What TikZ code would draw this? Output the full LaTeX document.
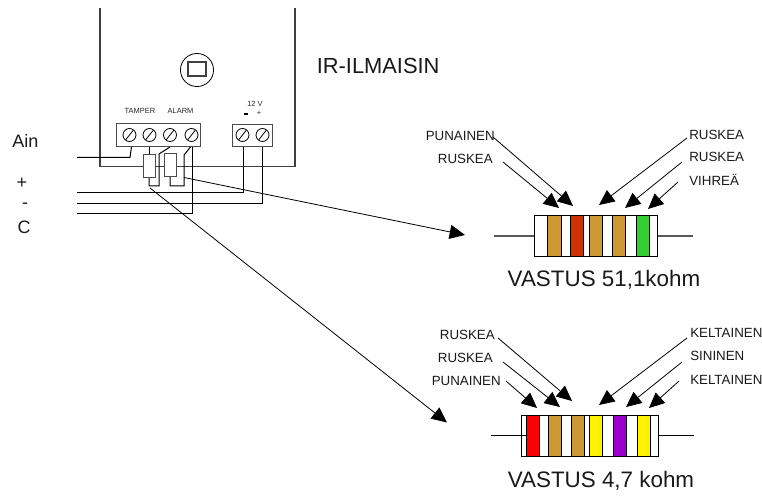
\documentclass[tikz,border=0pt]{standalone}
\usepackage{fontspec}
\setmainfont{Liberation Sans}
\usetikzlibrary{arrows.meta}
\definecolor{tanband}{HTML}{CC9933}
\definecolor{redorange}{HTML}{CC3300}
\definecolor{greenband}{HTML}{33CC33}
\definecolor{purpleband}{HTML}{9900CC}
\tikzset{
  wire/.style={draw=black,line width=0.75pt,line join=miter},
  greywire/.style={draw=black!75,line width=0.8pt},
  ptr/.style={draw=black,line width=0.6pt,-{Triangle[length=11.5pt,width=10.5pt]}},
  lbl/.style={inner sep=0pt,font=\fontsize{10pt}{12pt}\selectfont,text=black!90},
  big/.style={inner sep=0pt,font=\fontsize{16.8pt}{19pt}\selectfont,text=black!90},
  mid/.style={inner sep=0pt,font=\fontsize{13.5pt}{16pt}\selectfont,text=black!90},
  title/.style={inner sep=0pt,font=\fontsize{16.4pt}{19pt}\selectfont,text=black!90},
  tiny/.style={inner sep=0pt,font=\fontsize{5.6pt}{6.5pt}\selectfont,text=black!85},
  body/.style={draw=black,line width=0.7pt,fill=white},
  band/.style={draw=black,line width=0.6pt},
  screw/.style={draw=black,line width=0.6pt,fill=white},
  boxy/.style={draw=black!70,line width=0.75pt,fill=white},
}
\newcommand{\screwat}[3]{%
  \node[screw,circle,minimum size=9.75pt,inner sep=0pt] (#1) at (#2,#3) {};
  \draw[black,line width=0.6pt] (#2-3.8,#3+4.8) -- (#2+3.8,#3-4.8);
}
\newcommand{\bandat}[3]{\path[band,fill=#3] (#1,\rtop) rectangle (#2,\rbot);}
\begin{document}
\begin{tikzpicture}[x=0.75pt,y=-0.75pt]
\useasboundingbox (0,0) rectangle (762,495);
% detector housing
\coordinate (hTL) at (100,8);
\coordinate (hBL) at (100,166.5);
\coordinate (hBR) at (295,166.5);
\coordinate (hTR) at (295,8);
\draw[greywire] (hTL) -- (hBL) -- (hBR) -- (hTR);
\node[draw=black,line width=0.6pt,circle,minimum size=24.8pt,inner sep=0pt] (lens) at (197,70) {};
\draw[black!75,line width=0.8pt] (188,62) rectangle (206,76);
% terminal blocks
\path[boxy] (116,124) rectangle (200,147);
\path[boxy] (232,125) rectangle (272,147);
\screwat{s1}{129.5}{135}
\screwat{s2}{149.5}{135}
\screwat{s3}{170}{135}
\screwat{s4}{191.5}{135}
\screwat{s5}{242.5}{135}
\screwat{s6}{262.5}{135}
\node[tiny,anchor=center] (tamper) at (140,111) {TAMPER};
\node[tiny,anchor=center] (alarm) at (180.5,111) {ALARM};
\node[tiny,anchor=center] (v12) at (255,103.5) {12 V};
\draw[black,line width=1.2pt] (244,114) -- (248,114);
\node[tiny,anchor=center] (vplus) at (259,113.5) {+};
% wiring
\coordinate (ainS) at (77,157.5);
\coordinate (plusS) at (77,192.5);
\coordinate (minS) at (77,203);
\coordinate (cS) at (77,213);
\draw[wire] (ainS) -- (130,157.5) -- (131.5,147);
\draw[wire] (plusS) -- (243,192.5) -- (243,147);
\draw[wire] (minS) -- (262,203) -- (262,147);
\draw[wire] (cS) -- (192,213) -- (192,147);
\draw[wire] (149,147) -- (149,155);
\draw[wire] (149,178) -- (149,186) -- (159,186) -- (159,154) -- (170,147);
\draw[wire] (170,177) -- (170,186) -- (184,186) -- (184,155) -- (190.5,147);
\path[boxy] (143,155) rectangle (155,178);
\path[boxy] (164,154) rectangle (176,177);
% left labels
\node[mid,anchor=west] (ain) at (12,141) {Ain};
\node[mid,anchor=center] (plus) at (22,183) {+};
\node[mid,anchor=center] (minus) at (25,206) {-};
\node[mid,anchor=center] (c) at (24,227) {C};
\node[title,anchor=west] (ir) at (316.5,66) {IR-ILMAISIN};
% long arrows
\coordinate (w1) at (184,177.5);
\coordinate (t1) at (465,235);
\coordinate (w2) at (150,188);
\coordinate (t2) at (447,422.5);
\draw[ptr] (w1) -- (t1);
\draw[ptr] (w2) -- (t2);
% resistor 1
\draw[black!65,line width=0.8pt] (494,236) -- (534,236);
\draw[black!65,line width=0.8pt] (657,236) -- (693,236);
\def\rtop{215}\def\rbot{256}
\path[body] (534,\rtop) rectangle (657,\rbot);
\bandat{547}{561}{tanband}
\bandat{570}{583}{redorange}
\bandat{589}{602}{tanband}
\bandat{612}{625}{tanband}
\bandat{636}{649}{greenband}
\node[lbl,anchor=east] (a1) at (495,136) {PUNAINEN};
\node[lbl,anchor=east] (a2) at (493,159) {RUSKEA};
\node[lbl,anchor=west] (a3) at (689,134.5) {RUSKEA};
\node[lbl,anchor=west] (a4) at (689,156.5) {RUSKEA};
\node[lbl,anchor=west] (a5) at (689,180) {VIHREÄ};
\coordinate (b1) at (493,137); \coordinate (c1) at (573,206);
\coordinate (b2) at (503,162); \coordinate (c2) at (559,208);
\coordinate (b3) at (687,138); \coordinate (c3) at (599,205);
\coordinate (b4) at (682,162); \coordinate (c4) at (625,208);
\coordinate (b5) at (678,182); \coordinate (c5) at (648,209);
\foreach \i in {1,...,5} \draw[ptr] (b\i) -- (c\i);
\node[big,anchor=center] (cap1) at (604,280) {VASTUS 51,1kohm};
% resistor 2
\def\rtop{415}\def\rbot{456}
\path[body] (521,\rtop) rectangle (658,\rbot);
\draw[black,line width=0.7pt] (491,435) -- (526,435);
\draw[black,line width=0.7pt] (658,435) -- (694,435);
\bandat{526}{539}{red}
\bandat{548}{561}{tanband}
\bandat{571}{584}{tanband}
\bandat{589}{602}{yellow}
\bandat{613}{626}{purpleband}
\bandat{637}{650}{yellow}
\node[lbl,anchor=east] (d1) at (495,335) {RUSKEA};
\node[lbl,anchor=east] (d2) at (493,358) {RUSKEA};
\node[lbl,anchor=east] (d3) at (501,381) {PUNAINEN};
\node[lbl,anchor=west] (d4) at (690,333) {KELTAINEN};
\node[lbl,anchor=west] (d5) at (690,355.5) {SININEN};
\node[lbl,anchor=west] (d6) at (690,380) {KELTAINEN};
\coordinate (e1) at (498,338); \coordinate (f1) at (572,401);
\coordinate (e2) at (503,362); \coordinate (f2) at (560,407);
\coordinate (e3) at (506,381); \coordinate (f3) at (537,408);
\coordinate (e4) at (687,338); \coordinate (f4) at (599,405);
\coordinate (e5) at (682,362); \coordinate (f5) at (626,407);
\coordinate (e6) at (679,381); \coordinate (f6) at (649,408);
\foreach \i in {1,...,6} \draw[ptr] (e\i) -- (f\i);
\node[big,anchor=center] (cap2) at (601,481) {VASTUS 4,7 kohm};
\end{tikzpicture}
\end{document}
